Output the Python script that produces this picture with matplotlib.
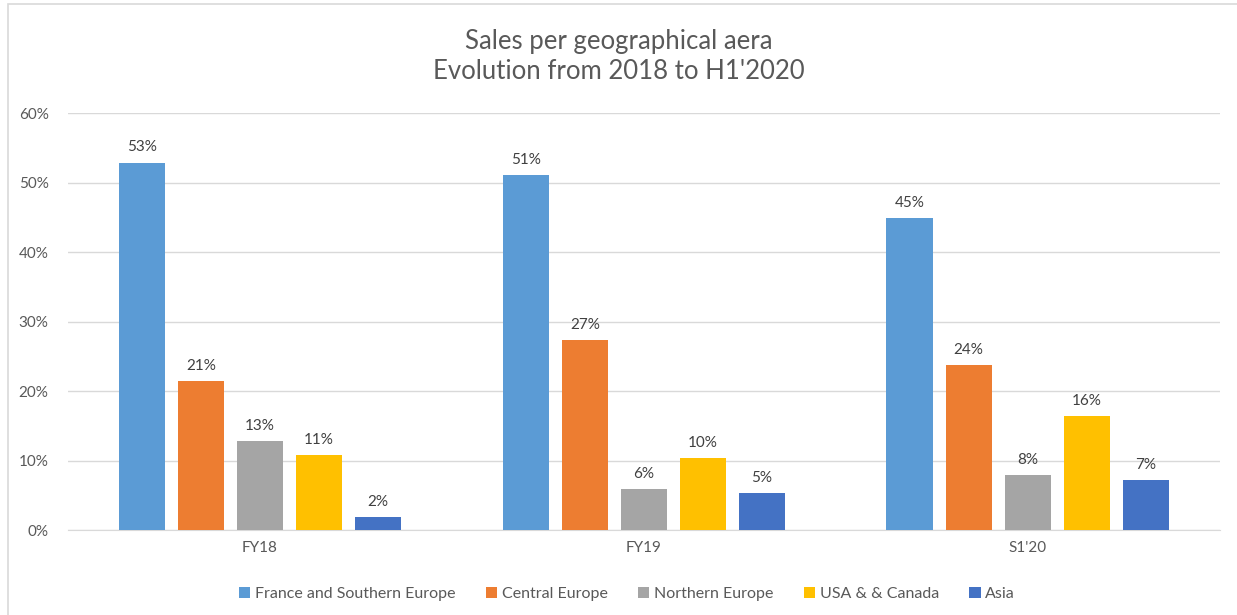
import matplotlib.pyplot as plt
import numpy as np
from matplotlib.patches import Rectangle

plt.rcParams['font.family'] = ['Lato', 'DejaVu Sans']

# Data
periods = ["FY18", "FY19", "S1'20"]
regions = ["France and Southern Europe", "Central Europe", "Northern Europe", "USA & & Canada", "Asia"]
france_south = [0.529, 0.511, 0.449]
central = [0.214, 0.273, 0.237]
northern = [0.128, 0.059, 0.079]
usa_canada = [0.108, 0.104, 0.164]
asia = [0.019, 0.053, 0.072]

series = [france_south, central, northern, usa_canada, asia]
colors = ["#5B9BD5", "#ED7D31", "#A5A5A5", "#FFC000", "#4472C4"]
text_color = "#595959"
label_color = "#404040"

fig = plt.figure(figsize=(12.37, 6.15), dpi=100)
ax = fig.add_axes([0.055, 0.138, 0.931, 0.678])

x = np.arange(len(periods))
step = 0.154
width = 0.12
for i, (vals, name, col) in enumerate(zip(series, regions, colors)):
    pos = x + (i - 2) * step
    bars = ax.bar(pos, vals, width=width, color=col, label=name, zorder=3)
    for b, v in zip(bars, vals):
        ax.text(b.get_x() + b.get_width() / 2, v + 0.012, f"{v:.0%}",
                ha="center", va="bottom", fontsize=11, color=label_color)

ax.set_xlim(-0.5, 2.5)
ax.set_ylim(0, 0.6)
ax.set_yticks(np.arange(0, 0.61, 0.1))
ax.set_yticklabels([f"{int(round(t * 100))}%" for t in np.arange(0, 0.61, 0.1)])
ax.set_xticks(x)
ax.set_xticklabels(periods)
ax.tick_params(axis="both", length=0, labelsize=11, colors=text_color)
ax.tick_params(axis="y", pad=14)
ax.tick_params(axis="x", pad=8)
ax.grid(axis="y", color="#D9D9D9", linewidth=1, zorder=0)
for s in ["top", "right", "left"]:
    ax.spines[s].set_visible(False)
ax.spines["bottom"].set_color("#D9D9D9")

fig.text(0.5, 0.908, "Sales per geographical aera\nEvolution from 2018 to H1'2020",
         ha="center", va="center", fontsize=18.5, color=text_color, linespacing=1.25)

fig.legend(loc="center", bbox_to_anchor=(0.507, 0.034), ncol=5, frameon=False,
           fontsize=11.5, labelcolor=text_color, handlelength=0.7, handleheight=0.7,
           handletextpad=0.3, columnspacing=1.9)

# light chart border (left and top edges visible)
fig.patches.append(Rectangle((8 / 1237, -0.05), 1.1, 0.05 + (615 - 4) / 615,
                             transform=fig.transFigure, fill=False,
                             edgecolor="#D9D9D9", linewidth=1.2))

fig.savefig("out.png", dpi=100)
